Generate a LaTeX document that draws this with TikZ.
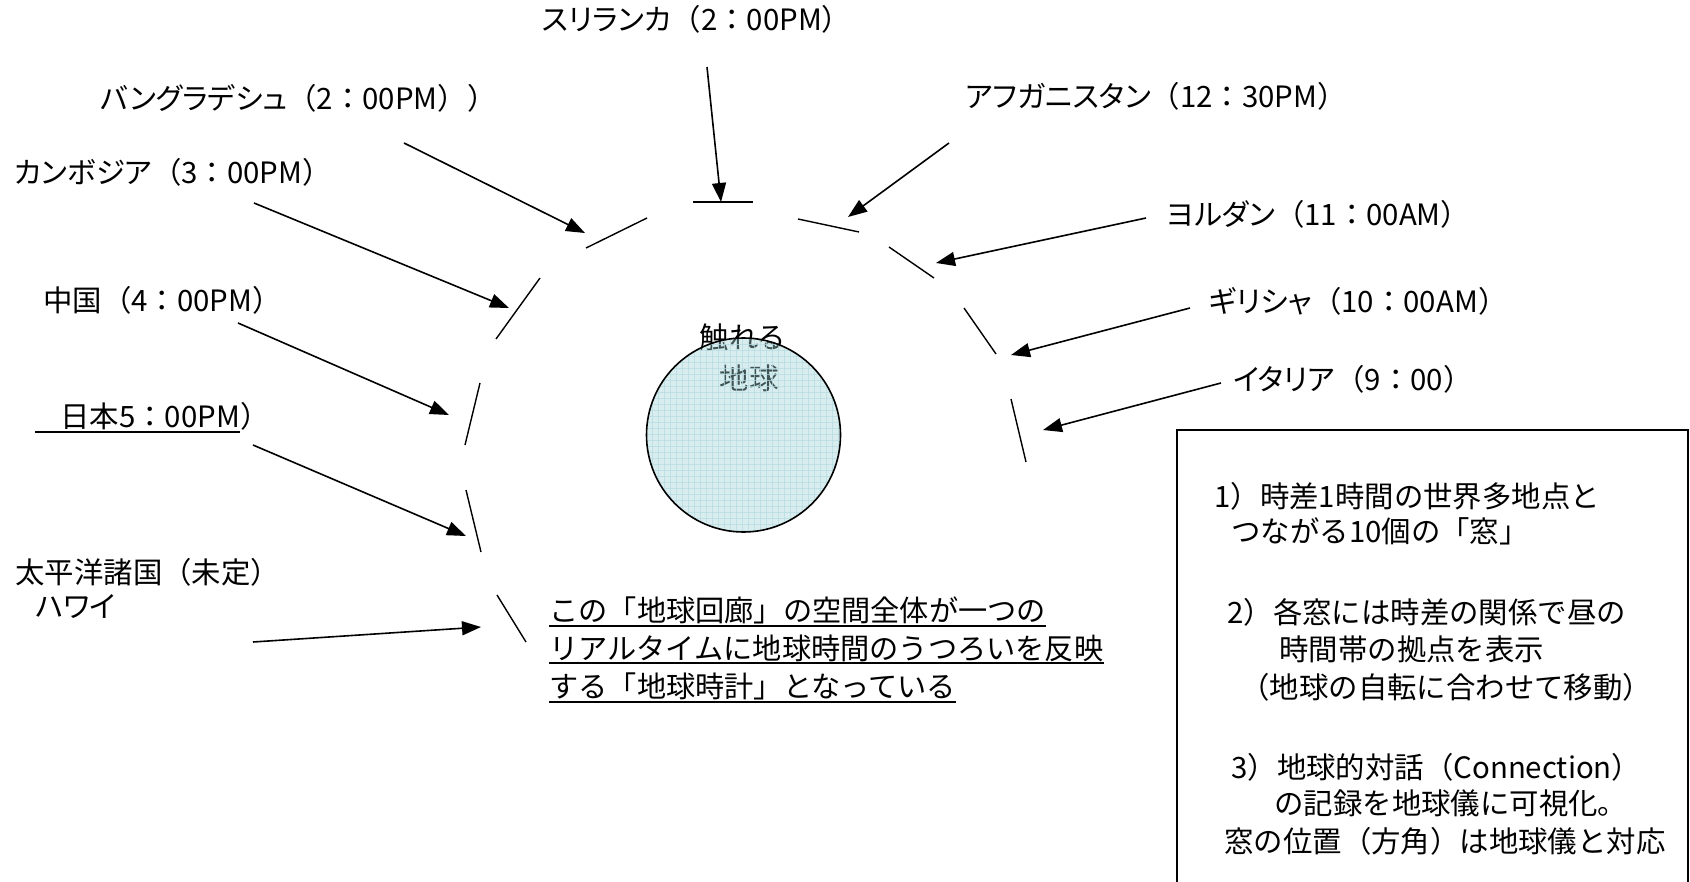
\documentclass[tikz,border=0pt]{standalone}
\usepackage{fontspec}
\setmainfont{Noto Sans CJK JP}[RawFeature={+palt}]
\newfontfamily\boxfont{Noto Sans CJK JP}
\newcommand{\fwL}{{\boxfont （}}
\newcommand{\fwR}{{\boxfont ）}}
\newcommand{\fwC}{{\boxfont ：}}
\usetikzlibrary{arrows.meta}
\definecolor{globefill}{RGB}{160,210,215}
\definecolor{globegrid}{RGB}{180,220,226}
\begin{document}
\begin{tikzpicture}[x=0.5pt,y=-0.5pt,
  lbl/.style={anchor=west,inner sep=0pt,font=\fontsize{14.7pt}{18pt}\selectfont},
  ctr/.style={anchor=center,inner sep=0pt,font=\fontsize{14.7pt}{18pt}\selectfont},
  par/.style={anchor=west,inner sep=0pt,font=\boxfont\fontsize{14.6pt}{18pt}\selectfont},
  arr/.style={-{Triangle[length=9.5pt,width=7pt]},line width=0.8pt},
  win/.style={line width=0.7pt},
  ul/.style={line width=1pt},
  bx/.style={anchor=west,inner sep=0pt,font=\boxfont\fontsize{14.7pt}{18pt}\selectfont}]
\fill[white] (0,0) rectangle (1690,882);
\useasboundingbox (0,0) rectangle (1690,882);

% labels
\node[lbl] (srilanka) at (542,19.5) {スリランカ\fwL 2\fwC 00PM\fwR};
\node[lbl] (bangla) at (100,98) {バングラデシュ\fwL 2\fwC 00PM\fwR\fwR};
\node[lbl] (cambodia) at (14,172) {カンボジア\fwL 3\fwC 00PM\fwR};
\node[lbl] (china) at (43,300) {中国\fwL 4\fwC 00PM\fwR};
\node[lbl] (japan) at (35,416) {\hspace{12.5pt}日本5\fwC 00PM\hspace{3pt}};
\node[lbl] (japanp) at (japan.east) {\fwR};
\draw[ul] ([yshift=-0.8pt]japan.south west) -- ([yshift=-0.8pt]japan.south east);
\node[lbl] (pacific) at (15,572) {太平洋諸国\fwL 未定\fwR};
\node[lbl] (hawaii) at (35,606) {ハワイ};
\node[lbl] (afghan) at (965,96) {アフガニスタン\fwL 12\fwC 30PM\fwR};
\node[lbl] (jordan) at (1166,214) {ヨルダン\fwL 11\fwC 00AM\fwR};
\node[lbl] (greece) at (1209,301) {ギリシャ\fwL 10\fwC 00AM\fwR};
\node[lbl] (italy) at (1233,379) {イタリア\fwL 9\fwC 00\fwR};

% globe
\node[ctr] (fureru) at (742,337) {触れる};
\node[ctr] (chikyu) at (749,378) {地球};
\node[circle,minimum size=97pt,inner sep=0pt,fill=globefill,fill opacity=0.4] (globe) at (743.5,435) {};
\begin{scope}
  \clip (743.5,435) circle [radius=48.5pt];
  \foreach \k in {0,...,33} {
    \draw[globegrid,line width=0.25pt,opacity=0.7] (646+\k*6,330) -- (646+\k*6,540);
    \draw[globegrid,line width=0.25pt,opacity=0.7] (640,338+\k*6) -- (850,338+\k*6);
  }
\end{scope}
\draw[line width=0.8pt] (globe.center) circle [radius=48.5pt];

% windows
\coordinate (wsl1) at (693,202); \coordinate (wsl2) at (753,202);
\coordinate (wbd1) at (586,248); \coordinate (wbd2) at (647,218);
\coordinate (wkh1) at (540,278); \coordinate (wkh2) at (496,339);
\coordinate (wcn1) at (480,383); \coordinate (wcn2) at (465,445);
\coordinate (wjp1) at (466,490); \coordinate (wjp2) at (481,552);
\coordinate (whw1) at (497,595); \coordinate (whw2) at (526,642);
\coordinate (waf1) at (798,219); \coordinate (waf2) at (859,232);
\coordinate (wjo1) at (889,247); \coordinate (wjo2) at (934,278);
\coordinate (wgr1) at (964,308); \coordinate (wgr2) at (996,354);
\coordinate (wit1) at (1011,399); \coordinate (wit2) at (1026,462);
\draw[line width=1pt] (wsl1) -- (wsl2);
\draw[win] (wbd1) -- (wbd2);
\draw[win] (wkh1) -- (wkh2);
\draw[win] (wcn1) -- (wcn2);
\draw[win] (wjp1) -- (wjp2);
\draw[win] (whw1) -- (whw2);
\draw[win] (waf1) -- (waf2);
\draw[win] (wjo1) -- (wjo2);
\draw[win] (wgr1) -- (wgr2);
\draw[win] (wit1) -- (wit2);

% arrows
\coordinate (asl1) at (707,67);   \coordinate (asl2) at (721,202);
\coordinate (abd1) at (404,143);  \coordinate (abd2) at (585,233);
\coordinate (akh1) at (254,203);  \coordinate (akh2) at (509,308);
\coordinate (acn1) at (238,323);  \coordinate (acn2) at (449,415);
\coordinate (ajp1) at (253,445);  \coordinate (ajp2) at (466,536);
\coordinate (ahw1) at (253,642);  \coordinate (ahw2) at (481,627);
\coordinate (aaf1) at (949,143);  \coordinate (aaf2) at (848,217);
\coordinate (ajo1) at (1146,218); \coordinate (ajo2) at (936,263);
\coordinate (agr1) at (1190,308); \coordinate (agr2) at (1011,355);
\coordinate (ait1) at (1221,383); \coordinate (ait2) at (1043,430);
\draw[arr] (asl1) -- (asl2);
\draw[arr] (abd1) -- (abd2);
\draw[arr] (akh1) -- (akh2);
\draw[arr] (acn1) -- (acn2);
\draw[arr] (ajp1) -- (ajp2);
\draw[arr] (ahw1) -- (ahw2);
\draw[arr] (aaf1) -- (aaf2);
\draw[arr] (ajo1) -- (ajo2);
\draw[arr] (agr1) -- (agr2);
\draw[arr] (ait1) -- (ait2);

% paragraph
\node[par] (p1) at (549,610) {この「地球回廊」の空間全体が一つの};
\node[par] (p2) at (549,648) {リアルタイムに地球時間のうつろいを反映};
\node[par] (p3) at (549,686) {する「地球時計」となっている};
\draw[ul] ([yshift=-0.8pt]p1.south west) -- ([yshift=-0.8pt]p1.south east);
\draw[ul] ([yshift=-0.8pt]p2.south west) -- ([yshift=-0.8pt]p2.south east);
\draw[ul] ([yshift=-0.8pt]p3.south west) -- ([yshift=-0.8pt]p3.south east);

% box
\node[draw,line width=1pt,minimum width=255.5pt,minimum height=230pt,inner sep=0pt] (frame) at (1432.5,660) {};
\node[bx] (b1) at (1214,496) {1）時差1時間の世界多地点と};
\node[bx] (b2) at (1231,531) {つながる10個の「窓」};
\node[bx] (b3) at (1227,612) {2）各窓には時差の関係で昼の};
\node[bx] (b4) at (1279,649) {時間帯の拠点を表示};
\node[bx] (b5) at (1240,687) {（地球の自転に合わせて移動）};
\node[bx] (b6) at (1231,767) {3）地球的対話（Connection）};
\node[bx] (b7) at (1274,803) {の記録を地球儀に可視化。};
\node[bx] (b8) at (1224,841) {窓の位置（方角）は地球儀と対応};
\end{tikzpicture}
\end{document}
